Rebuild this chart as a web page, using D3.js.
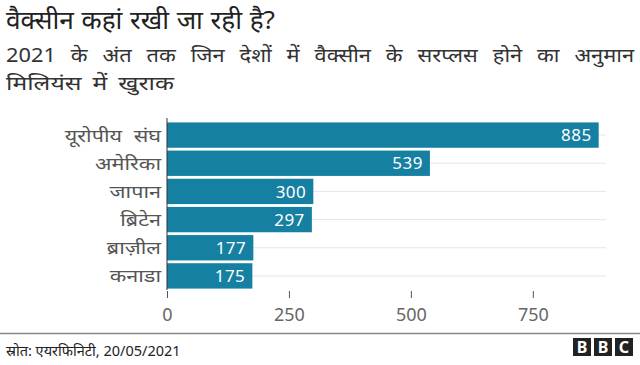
<!DOCTYPE html>
<html><head><meta charset="utf-8">
<script src="https://cdn.jsdelivr.net/npm/d3@7"></script>
<style>body{margin:0;background:#fff}svg{display:block}text{font-family:"Noto Sans","Noto Sans Devanagari",sans-serif}</style>
</head><body><svg id="c" width="640" height="365"></svg>
<script>
const categories = ["यूरोपीय संघ","अमेरिका","जापान","ब्रिटेन","ब्राज़ील","कनाडा"];
const values = [885,539,300,297,177,175];
const ticks = [0,250,500,750];
const title = "वैक्सीन कहां रखी जा रही है?";
const subtitle = ["2021 के अंत तक जिन देशों में वैक्सीन के सरप्लस होने का अनुमान","मिलियंस में खुराक"];
const source = "स्रोत: एयरफिनिटी, 20/05/2021";

const svg = d3.select("#c");
const x = d3.scaleLinear().domain([0,900]).range([167,606]);
const y = d3.scaleBand().domain(categories).range([121,290]).paddingInner(0.1).paddingOuter(0.05);

function fitWords(sel, target, sx){
  const node = sel.node();
  const w0 = node.getComputedTextLength();
  const n = (node.textContent.match(/ /g)||[]).length;
  if(n>0){ const ws = (target/sx - w0)/n; sel.attr("word-spacing", Math.max(0,ws)); }
}

const t = svg.append("text").attr("transform","translate(6,29) scale(1.05,1)").attr("font-size",25).attr("fill","#222").text(title);
fitWords(t, 269, 1.05);
const subTargets = [628, 168];
const subScales = [1.12, 1.27];
subtitle.forEach((s,i)=>{
  const st = svg.append("text").attr("transform",`translate(6,${62+i*28}) scale(${subScales[i]},1)`)
    .attr("font-size",19.5).attr("fill","#333").text(s);
  fitWords(st, subTargets[i], subScales[i]);
});

// gridlines
svg.append("g").selectAll("line").data(categories).join("line")
  .attr("x1",x(0)).attr("x2",x(900))
  .attr("y1",d=>y(d)+y.bandwidth()/2).attr("y2",d=>y(d)+y.bandwidth()/2)
  .attr("stroke","#e6e6e6").attr("stroke-width",1);

svg.append("g").selectAll("rect").data(categories).join("rect")
  .attr("x",x(0)).attr("y",d=>y(d)).attr("height",y.bandwidth())
  .attr("width",(d,i)=>x(values[i])-x(0)).attr("fill","#1680a2");

svg.append("g").selectAll("text").data(categories).join("text")
  .attr("x",(d,i)=>x(values[i])-7).attr("y",d=>y(d)+y.bandwidth()/2).attr("dy","0.36em")
  .attr("text-anchor","end").attr("font-size",17).attr("fill","#fff").attr("letter-spacing",0.5)
  .text((d,i)=>values[i]);

svg.append("g").selectAll("text").data(categories).join("text")
  .attr("transform",d=>`translate(161,${y(d)+y.bandwidth()/2}) scale(1.2,1)`).attr("dy","0.36em")
  .attr("text-anchor","end").attr("font-size",18).attr("fill","#555").attr("word-spacing",5).text(d=>d);

// y axis line
svg.append("line").attr("x1",x(0)).attr("x2",x(0)).attr("y1",118).attr("y2",290).attr("stroke","#333").attr("stroke-width",1);

const ax = svg.append("g").attr("transform","translate(0,291)")
  .call(d3.axisBottom(x).tickValues(ticks).tickSize(7).tickPadding(10).tickFormat(d3.format("d")));
ax.select(".domain").remove();
ax.selectAll("line").attr("stroke","#555");
ax.selectAll("text").attr("font-size",18).attr("fill","#666").attr("font-family",'"Noto Sans",sans-serif');

svg.append("line").attr("x1",0).attr("x2",640).attr("y1",333.5).attr("y2",333.5).attr("stroke","#888").attr("stroke-width",1.5);
svg.append("text").attr("x",6).attr("y",356).attr("font-size",14.5).attr("fill","#222").text(source);

const logo = svg.append("g");
["B","B","C"].forEach((l,i)=>{
  logo.append("rect").attr("x",573+i*21).attr("y",338).attr("width",18).attr("height",18).attr("fill","#222");
  logo.append("text").attr("x",582+i*21).attr("y",353).attr("text-anchor","middle").attr("font-size",16).attr("font-weight","bold").attr("fill","#fff").attr("font-family","Arial,'Liberation Sans',sans-serif").text(l);
});
</script></body></html>
